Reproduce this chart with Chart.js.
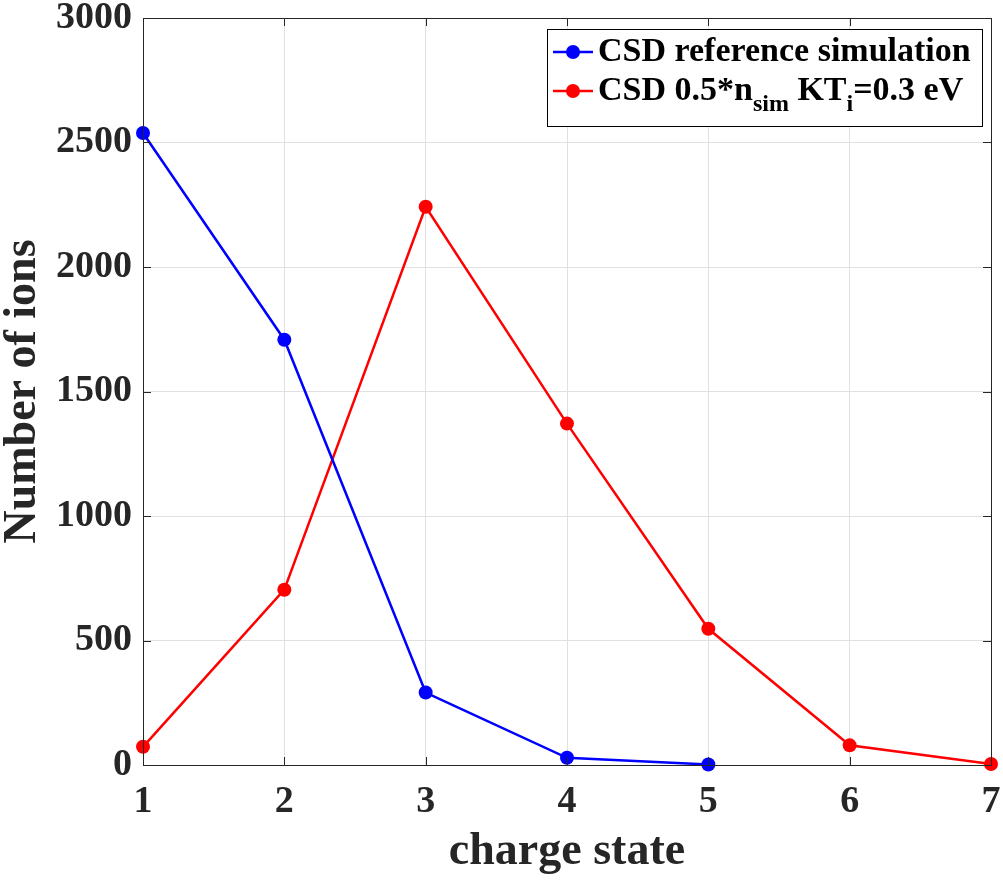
<!DOCTYPE html>
<html>
<head>
<meta charset="utf-8">
<script src="https://cdn.jsdelivr.net/npm/chart.js@4"></script>
<style>
  html, body { margin: 0; padding: 0; background: #fff; }
  #chart { display: block; }
</style>
</head>
<body>
<canvas id="chart" width="1003" height="885"></canvas>
<script>
// values
const chargeStates = [1, 2, 3, 4, 5, 6, 7];
const referenceSim = [2538, 1708, 291, 29, 2];
const halfDensity = [73, 704, 2242, 1371, 547, 79, 4];
const yTicks = [0, 500, 1000, 1500, 2000, 2500, 3000];

const FONT = '"Liberation Serif", "Times New Roman", serif';
const INK = '#262626';

const ctx = document.getElementById('chart').getContext('2d');

// draws the box, inward tick marks and the legend with subscripts
const matlabLook = {
    id: 'matlabLook',
    afterDraw(chart) {
        const c = chart.ctx;
        const a = chart.chartArea;
        const xs = chart.scales.x;
        const ys = chart.scales.y;
        c.save();
        c.strokeStyle = INK;
        c.lineWidth = 1;
        c.strokeRect(a.left + 0.5, a.top + 0.5, a.right - a.left, a.bottom - a.top);
        const tl = 8;
        c.beginPath();
        chargeStates.forEach(v => {
            const px = Math.round(xs.getPixelForValue(v)) + 0.5;
            c.moveTo(px, a.bottom); c.lineTo(px, a.bottom - tl);
            c.moveTo(px, a.top); c.lineTo(px, a.top + tl);
        });
        yTicks.forEach(v => {
            const py = Math.round(ys.getPixelForValue(v)) + 0.5;
            c.moveTo(a.left, py); c.lineTo(a.left + tl, py);
            c.moveTo(a.right, py); c.lineTo(a.right - tl, py);
        });
        c.stroke();

        // legend
        const bx = 547, by = 29, bw = 435, bh = 97;
        c.fillStyle = '#fff';
        c.fillRect(bx, by, bw, bh);
        c.strokeStyle = '#000';
        c.strokeRect(bx + 0.5, by + 0.5, bw, bh);
        const rows = [
            { color: '#0000ff', y: 52, parts: [['CSD reference simulation', 0]] },
            { color: '#ff0000', y: 91, parts: [['CSD 0.5*n', 0], ['sim', 1], [' KT', 0], ['i', 1], ['=0.3 eV', 0]] }
        ];
        rows.forEach(r => {
            c.strokeStyle = r.color;
            c.lineWidth = 2.5;
            c.beginPath();
            c.moveTo(553, r.y); c.lineTo(593, r.y);
            c.stroke();
            c.fillStyle = r.color;
            c.beginPath();
            c.arc(573, r.y, 7, 0, Math.PI * 2);
            c.fill();
            let x = 598;
            c.fillStyle = '#000';
            c.textBaseline = 'middle';
            c.textAlign = 'left';
            r.parts.forEach(([t, sub]) => {
                c.font = sub ? 'bold 24px ' + FONT : 'bold 34px ' + FONT;
                c.fillText(t, x, sub ? r.y + 14 : r.y);
                x += c.measureText(t).width;
            });
        });
        c.restore();
    }
};

new Chart(ctx, {
    type: 'line',
    data: {
        datasets: [
            {
                label: 'CSD reference simulation',
                data: referenceSim.map((v, i) => ({ x: chargeStates[i], y: v })),
                borderColor: '#0000ff',
                backgroundColor: '#0000ff',
                borderWidth: 2.5,
                pointRadius: 7,
                pointBorderWidth: 0,
                tension: 0,
                clip: false
            },
            {
                label: 'CSD 0.5*n_sim KT_i=0.3 eV',
                data: halfDensity.map((v, i) => ({ x: chargeStates[i], y: v })),
                borderColor: '#ff0000',
                backgroundColor: '#ff0000',
                borderWidth: 2.5,
                pointRadius: 7,
                pointBorderWidth: 0,
                tension: 0,
                clip: false
            }
        ]
    },
    options: {
        responsive: false,
        devicePixelRatio: 1,
        animation: false,
        layout: { padding: { top: 18, right: 12, left: 0, bottom: 0 } },
        plugins: {
            legend: { display: false },
            tooltip: { enabled: false }
        },
        scales: {
            x: {
                type: 'linear',
                min: 1,
                max: 7,
                afterFit: s => { s.height = 120; s.paddingLeft = 0; s.paddingRight = 0; },
                afterBuildTicks: s => { s.ticks = chargeStates.map(v => ({ value: v })); },
                grid: { color: '#e0e0e0', drawTicks: false },
                border: { color: INK },
                ticks: {
                    color: INK,
                    padding: 14,
                    maxRotation: 0,
                    font: { family: FONT, size: 38, weight: 'bold' }
                },
                title: {
                    display: true,
                    text: 'charge state',
                    color: INK,
                    padding: { top: 0, bottom: 10 },
                    font: { family: FONT, size: 46, weight: 'bold', lineHeight: 1 }
                }
            },
            y: {
                min: 0,
                max: 3000,
                afterFit: s => { s.width = 143; s.paddingTop = 0; s.paddingBottom = 0; },
                afterBuildTicks: s => { s.ticks = yTicks.map(v => ({ value: v })); },
                grid: { color: '#e0e0e0', drawTicks: false },
                border: { color: INK },
                ticks: {
                    color: INK,
                    padding: 11,
                    callback: v => String(v),
                    font: { family: FONT, size: 38, weight: 'bold' }
                },
                title: {
                    display: true,
                    text: 'Number of ions',
                    color: INK,
                    padding: { top: 0, bottom: 0 },
                    font: { family: FONT, size: 46, weight: 'bold', lineHeight: 1 }
                }
            }
        }
    },
    plugins: [matlabLook]
});
</script>
</body>
</html>
